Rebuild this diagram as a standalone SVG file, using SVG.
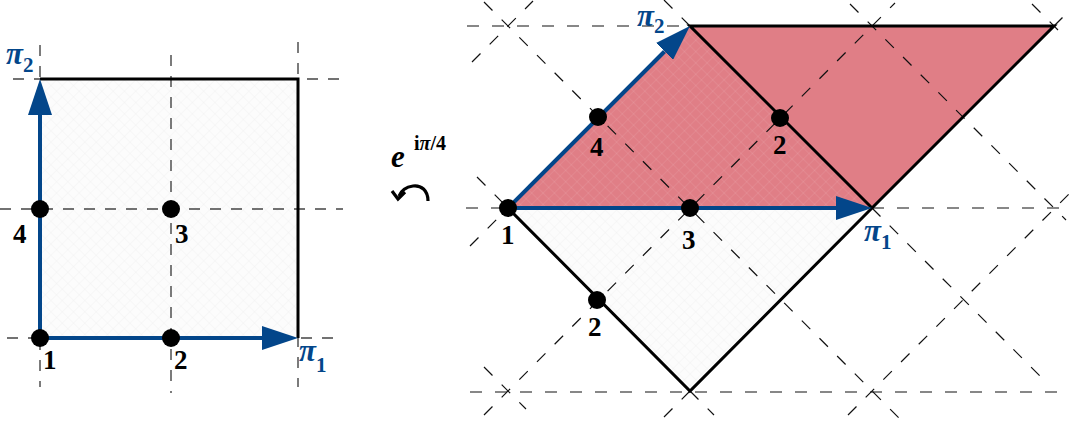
<svg xmlns="http://www.w3.org/2000/svg" width="1069" height="423" viewBox="0 0 1069 423">
<style>
.dl{stroke:#444;stroke-width:1.4;stroke-dasharray:11 10;fill:none}
.dr{stroke:#111;stroke-width:1.2;stroke-dasharray:12 13;fill:none}
.edge{stroke:#000;stroke-width:3;fill:none;stroke-linejoin:miter}
.vec{stroke:#03468a;stroke-width:4;fill:none}
.dot{fill:#000}
.num{font-family:"Liberation Serif",serif;font-weight:bold;font-size:27px;fill:#000}
.pi{font-family:"Liberation Serif",serif;font-style:italic;font-weight:bold;font-size:31px;fill:#03468a}
.sub{font-style:normal;font-size:21px}
</style>
<defs>
<pattern id="hatch" width="8" height="8" patternUnits="userSpaceOnUse" patternTransform="rotate(45)">
<path d="M0,0 V8 M0,0 H8" stroke="#ebebeb" stroke-width="0.6"/>
</pattern>
<pattern id="hatchW" width="8" height="8" patternUnits="userSpaceOnUse" patternTransform="rotate(45)">
<path d="M0,0 V8 M0,0 H8" stroke="#ffffff" stroke-opacity="0.25" stroke-width="0.6"/>
</pattern>
<marker id="ah" markerUnits="userSpaceOnUse" viewBox="0 0 36 24" markerWidth="36" markerHeight="24" refX="0" refY="12" orient="auto">
<path d="M0,0 L36,12 L0,24 z" fill="#03468a"/>
</marker>
</defs>

<g id="fills">
<rect x="40" y="79" width="258" height="259" fill="#fcfcfc"/>
<rect x="40" y="79" width="258" height="259" fill="url(#hatch)"/>
<polygon points="508,208 690,391 872,208 690,26" fill="#fcfcfc"/>
<polygon points="508,208 690,391 872,208 690,26" fill="url(#hatch)"/>
<polygon points="508,208 872,208 1054,26 690,26" fill="#e07e86"/>
<polygon points="508,208 872,208 690,26" fill="url(#hatchW)"/>
</g>

<g id="connectors">
<line class="dl" x1="13" y1="79" x2="343" y2="79"/>
<line class="dl" x1="0" y1="209" x2="343" y2="209"/>
<line class="dl" x1="7" y1="338" x2="343" y2="338"/>
<line class="dl" x1="40" y1="45" x2="40" y2="387"/>
<line class="dl" x1="171" y1="55" x2="171" y2="393"/>
<line class="dl" x1="298" y1="42" x2="298" y2="387"/>
<line class="dr" x1="467" y1="26" x2="690" y2="26"/>
<line class="dr" x1="466" y1="208" x2="508" y2="208"/>
<line class="dr" x1="872" y1="208" x2="1069" y2="208"/>
<line class="dr" x1="470" y1="392" x2="1058" y2="392"/>
<line class="dr" x1="484" y1="367" x2="526" y2="409"/>
<line class="dr" x1="477" y1="177" x2="508" y2="208"/>
<line class="dr" x1="690" y1="391" x2="714" y2="415"/>
<line class="dr" x1="484" y1="2" x2="900" y2="419"/>
<line class="dr" x1="664" y1="0" x2="690" y2="26"/>
<line class="dr" x1="872" y1="208" x2="1046" y2="382"/>
<line class="dr" x1="850" y1="4" x2="1066" y2="220"/>
<line class="dr" x1="1032" y1="4" x2="1058" y2="30"/>
<line class="dr" x1="472" y1="62" x2="533" y2="1"/>
<line class="dr" x1="470" y1="246" x2="508" y2="208"/>
<line class="dr" x1="484" y1="415" x2="895" y2="3"/>
<line class="dr" x1="664" y1="417" x2="690" y2="391"/>
<line class="dr" x1="1054" y1="26" x2="1065" y2="15"/>
<line class="dr" x1="848" y1="415" x2="1069" y2="194"/>
<polyline class="edge" points="40,79 298,79 298,338"/>
<polyline class="edge" points="508,208 690,391 872,208 1054,26 690,26 872,208"/>
<line class="vec" x1="40" y1="338" x2="262" y2="338" marker-end="url(#ah)"/>
<line class="vec" x1="40" y1="338" x2="40" y2="115" marker-end="url(#ah)"/>
<line class="vec" x1="508" y1="208" x2="836" y2="208" marker-end="url(#ah)"/>
<line class="vec" x1="508" y1="208" x2="664.5" y2="51.5" marker-end="url(#ah)"/>
<path d="M428,201 C428,190 421,185 413,186 C406,187 401,191 399,196" stroke="#000" stroke-width="3.2" fill="none"/>
<path d="M392,191 L398,199 L405,192" stroke="#000" stroke-width="3.2" fill="none" stroke-linejoin="miter"/>
</g>

<g id="n-left-1"><circle class="dot" cx="40" cy="338" r="9"/><text class="num" x="43" y="369">1</text></g>
<g id="n-left-2"><circle class="dot" cx="171" cy="338" r="9"/><text class="num" x="174" y="369">2</text></g>
<g id="n-left-3"><circle class="dot" cx="171" cy="209" r="9"/><text class="num" x="175" y="243">3</text></g>
<g id="n-left-4"><circle class="dot" cx="40" cy="209" r="9"/><text class="num" x="13" y="243">4</text></g>
<g id="n-left-pi2"><text class="pi" x="6" y="64">π<tspan class="sub" dy="8">2</tspan></text></g>
<g id="n-left-pi1"><text class="pi" x="299" y="361">π<tspan class="sub" dy="11">1</tspan></text></g>

<g id="n-rot"><text x="391" y="167" font-family="Liberation Serif, serif" font-weight="bold" font-style="italic" font-size="31">e</text><text x="414" y="150" font-family="Liberation Serif, serif" font-weight="bold" font-size="20">i<tspan font-style="italic">π</tspan>/4</text></g>

<g id="n-right-1"><circle class="dot" cx="508" cy="208" r="9"/><text class="num" x="501" y="244">1</text></g>
<g id="n-right-4"><circle class="dot" cx="598" cy="117" r="9"/><text class="num" x="590" y="156">4</text></g>
<g id="n-right-3"><circle class="dot" cx="690" cy="208" r="9"/><text class="num" x="682" y="249">3</text></g>
<g id="n-right-2a"><circle class="dot" cx="780" cy="118" r="9"/><text class="num" x="773" y="154">2</text></g>
<g id="n-right-2b"><circle class="dot" cx="597" cy="300" r="9"/><text class="num" x="588" y="336">2</text></g>
<g id="n-right-pi2"><text class="pi" x="637" y="26" font-size="28">π<tspan class="sub" dy="7" font-size="19">2</tspan></text></g>
<g id="n-right-pi1"><text class="pi" x="864" y="241">π<tspan class="sub" dy="8">1</tspan></text></g>
</svg>
